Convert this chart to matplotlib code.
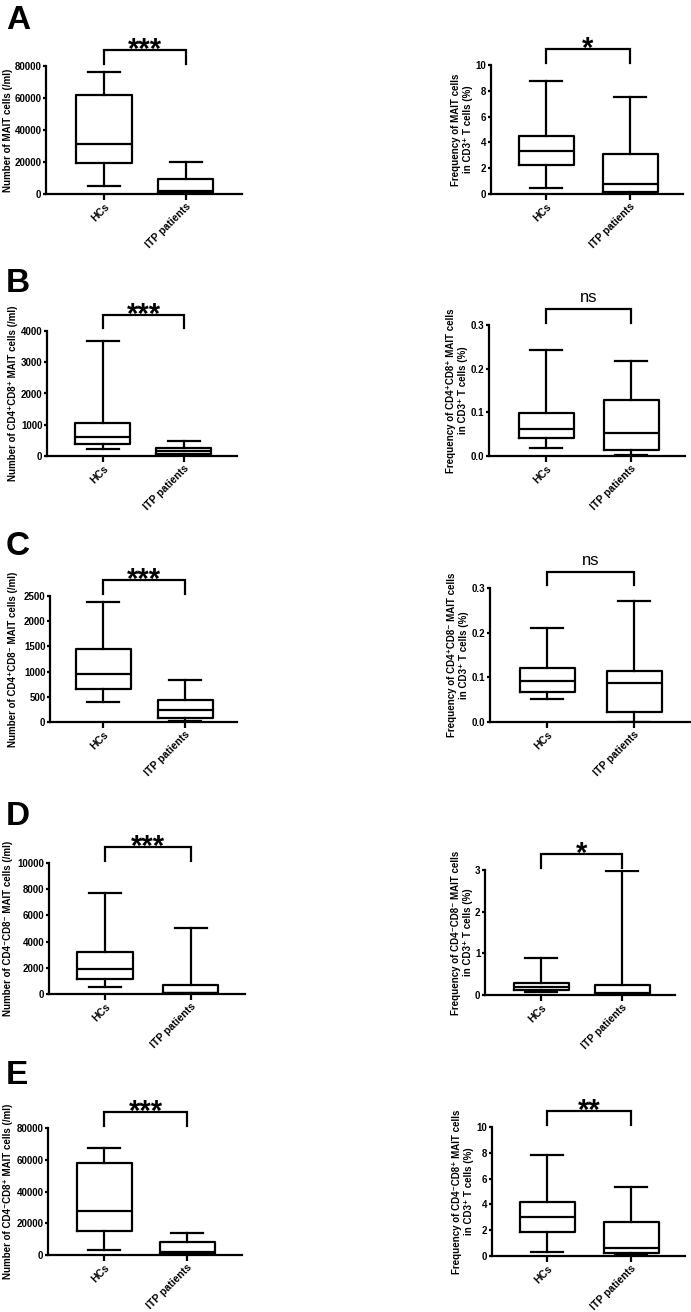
import numpy as np
import matplotlib
matplotlib.use("Agg")
import matplotlib.pyplot as plt
import matplotlib.transforms as mtransforms
from matplotlib.ticker import MultipleLocator, FormatStrFormatter

plt.rcParams['font.family'] = ['Liberation Sans', 'DejaVu Sans']

groups = ['HCs', 'ITP patients']

# box stats per group: [whisker low, q1, median, q3, whisker high]
num_mait_hc = [5200, 19600, 31300, 61900, 76000]
num_mait_itp = [150, 500, 1800, 9600, 19800]
freq_mait_hc = [0.44, 2.23, 3.32, 4.51, 8.78]
freq_mait_itp = [0.08, 0.18, 0.75, 3.11, 7.49]

num_dp_hc = [223, 382, 594, 1060, 3690]
num_dp_itp = [20, 70, 150, 265, 477]
freq_dp_hc = [0.018, 0.041, 0.062, 0.099, 0.243]
freq_dp_itp = [0.002, 0.013, 0.052, 0.129, 0.217]

num_cd4_hc = [400, 645, 945, 1455, 2390]
num_cd4_itp = [10, 75, 235, 445, 830]
freq_cd4_hc = [0.052, 0.068, 0.092, 0.121, 0.210]
freq_cd4_itp = [0.001, 0.022, 0.088, 0.114, 0.272]

num_dn_hc = [510, 1145, 1935, 3180, 7710]
num_dn_itp = [5, 50, 100, 660, 5040]
freq_dn_hc = [0.064, 0.112, 0.192, 0.28, 0.896]
freq_dn_itp = [0.008, 0.024, 0.04, 0.248, 2.97]

num_cd8_hc = [2900, 15250, 27600, 57900, 67300]
num_cd8_itp = [200, 850, 1700, 8150, 14000]
freq_cd8_hc = [0.28, 1.83, 3.0, 4.21, 7.83]
freq_cd8_itp = [0.08, 0.21, 0.59, 2.61, 5.32]

letters = ['A', 'B', 'C', 'D', 'E']
subsets = ['', 'CD4\u207aCD8\u207a ', 'CD4\u207aCD8\u207b ', 'CD4\u207bCD8\u207b ', 'CD4\u207bCD8\u207a ']
num_data = [(num_mait_hc, num_mait_itp), (num_dp_hc, num_dp_itp), (num_cd4_hc, num_cd4_itp),
            (num_dn_hc, num_dn_itp), (num_cd8_hc, num_cd8_itp)]
freq_data = [(freq_mait_hc, freq_mait_itp), (freq_dp_hc, freq_dp_itp), (freq_cd4_hc, freq_cd4_itp),
             (freq_dn_hc, freq_dn_itp), (freq_cd8_hc, freq_cd8_itp)]
num_ymax = [80000, 4000, 2500, 10000, 80000]
num_step = [20000, 1000, 500, 2000, 20000]
freq_ymax = [10, 0.3, 0.3, 3, 10]
freq_step = [2, 0.1, 0.1, 1, 2]
freq_fmt = ['%d', '%.1f', '%.1f', '%d', '%d']
num_sig = ['***', '***', '***', '***', '***']
freq_sig = ['*', 'ns', 'ns', '*', '**']

# layout in pixels: (left, top, right, bottom, x of HCs, x of ITP, right edge of y label)
W, H = 691, 1312
left_boxes = [(46, 66, 242, 194, 104, 186, 13), (47, 331, 237, 456, 103, 184, 18),
              (50, 596, 237, 722, 103, 185, 18), (49, 863, 245, 994, 105, 191, 13),
              (48, 1128, 242, 1255, 104, 187, 13)]
right_boxes = [(491, 65, 683, 194, 546, 630, 473), (489, 325, 685, 456, 546, 631, 468),
               (490, 588, 690, 722, 547, 634, 469), (485, 870, 675, 995, 541, 622, 473),
               (492, 1127, 685, 1256, 547, 631, 474)]
letter_tops = [5, 268, 531, 801, 1060]

LW = 1.6
BOX_PX = 55
CAP_PX = 32


def draw_panel(fig, box, data, ymax, step, fmt, ylabel, sig):
    l, t, r, b, p1, p2, lab_x = box
    ax = fig.add_axes([l / W, 1 - b / H, (r - l) / W, (b - t) / H])
    s = p2 - p1
    ax.set_xlim(1 - (p1 - l) / s, 2 + (r - p2) / s)
    ax.set_ylim(0, ymax)

    stats = []
    for name, v in zip(groups, data):
        stats.append(dict(label=name, whislo=v[0], q1=v[1], med=v[2], q3=v[3], whishi=v[4]))
    props = dict(color='black', linewidth=LW)
    ax.bxp(stats, positions=[1, 2], widths=BOX_PX / s, capwidths=CAP_PX / s,
           showfliers=False, boxprops=props, whiskerprops=props,
           capprops=props, medianprops=props)

    for side in ['top', 'right']:
        ax.spines[side].set_visible(False)
    for side in ['left', 'bottom']:
        ax.spines[side].set_linewidth(LW)
    ax.yaxis.set_major_locator(MultipleLocator(step))
    ax.yaxis.set_major_formatter(FormatStrFormatter(fmt))
    ax.tick_params(axis='y', direction='out', length=2.5, width=LW, labelsize=7, pad=0.8)
    ax.tick_params(axis='x', direction='out', length=4.5, width=LW, labelsize=7.5, pad=1)
    for lab in ax.get_yticklabels():
        lab.set_fontweight('bold')
    ax.set_xticks([1, 2])
    ax.set_xticklabels(groups, rotation=45, ha='right', rotation_mode='anchor',
                       fontweight='bold')
    ax.set_ylabel(ylabel, fontsize=7, fontweight='bold')
    ax.yaxis.set_label_coords((lab_x - l) / (r - l), 0.5)

    # significance bracket
    hpx = b - t
    trans = mtransforms.blended_transform_factory(ax.transData, ax.transAxes)
    y_top = 1 + 16 / hpx
    y_leg = 1 + 2.5 / hpx
    ax.plot([1, 1, 2, 2], [y_leg, y_top, y_top, y_leg], color='black',
            linewidth=LW, transform=trans, clip_on=False, solid_joinstyle='miter')
    if sig == 'ns':
        ax.text(1.5, y_top + 4 / hpx, sig, transform=trans, ha='center', va='bottom',
                fontsize=12)
    else:
        ax.text(1.5, y_top - 7.5 / hpx, sig, transform=trans, ha='center', va='baseline',
                fontsize=21, fontweight='bold')
    return ax


fig = plt.figure(figsize=(W / 100, H / 100), dpi=100)

for i in range(5):
    num_label = 'Number of ' + subsets[i] + 'MAIT cells (/ml)'
    freq_label = 'Frequency of ' + subsets[i] + 'MAIT cells\nin CD3\u207a T cells (%)'
    draw_panel(fig, left_boxes[i], num_data[i], num_ymax[i], num_step[i], '%d',
               num_label, num_sig[i])
    draw_panel(fig, right_boxes[i], freq_data[i], freq_ymax[i], freq_step[i], freq_fmt[i],
               freq_label, freq_sig[i])
    fig.text(6 / W, 1 - letter_tops[i] / H, letters[i], fontsize=24, fontweight='bold',
             ha='left', va='top')

fig.savefig('out.png', dpi=100)
